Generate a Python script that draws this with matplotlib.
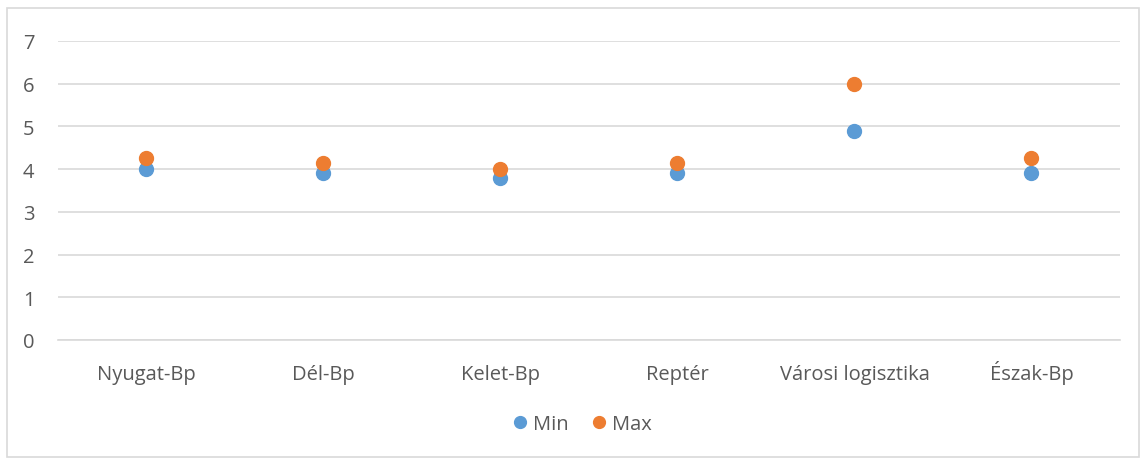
import numpy as np
import matplotlib
matplotlib.use('Agg')
import matplotlib.pyplot as plt
from matplotlib.patches import Rectangle

# data
categories = ['Nyugat-Bp', 'Dél-Bp', 'Kelet-Bp', 'Reptér', 'Városi logisztika', 'Észak-Bp']
min_vals = [4.0, 3.9, 3.8, 3.9, 4.9, 3.9]
max_vals = [4.25, 4.15, 4.0, 4.15, 6.0, 4.25]

plt.rcParams['font.family'] = ['Open Sans', 'DejaVu Sans']
txt = '#595959'

fig = plt.figure(figsize=(11.46, 4.6), dpi=100)
ax = fig.add_axes([0.0506, 0.2587, 0.9267, 0.6503])

x = np.arange(len(categories))
ax.plot(x, min_vals, 'o', color='#5B9BD5', ms=10, label='Min', zorder=3)
ax.plot(x, max_vals, 'o', color='#ED7D31', ms=10, label='Max', zorder=3)

ax.set_xlim(-0.5, len(categories) - 0.5)
ax.set_ylim(0, 7)
ax.set_yticks(range(0, 8))
ax.set_xticks(x)
ax.set_xticklabels(categories)
ax.grid(axis='y', color='#D9D9D9', lw=1.2)
ax.set_axisbelow(True)
for s in ['top', 'right', 'left']:
    ax.spines[s].set_visible(False)
ax.spines['bottom'].set_color('#D9D9D9')
ax.spines['bottom'].set_linewidth(1.2)
ax.tick_params(length=0, labelsize=14.5, colors=txt)
ax.tick_params(axis='x', pad=28)
ax.tick_params(axis='y', pad=17)
for lab in ax.get_xticklabels():
    lab.set_va('baseline')

leg = fig.legend(loc='center', bbox_to_anchor=(0.506, 0.076), ncol=2, frameon=False,
                 fontsize=14.5, handletextpad=0.05, columnspacing=0.9, markerscale=0.85,
                 handlelength=1.2)
for t in leg.get_texts():
    t.set_color(txt)

fig.patches.append(Rectangle((0.006, 0.005), 0.988, 0.975, transform=fig.transFigure,
                             fill=False, edgecolor='#D9D9D9', lw=1.2))

fig.savefig('out.png', dpi=100)
